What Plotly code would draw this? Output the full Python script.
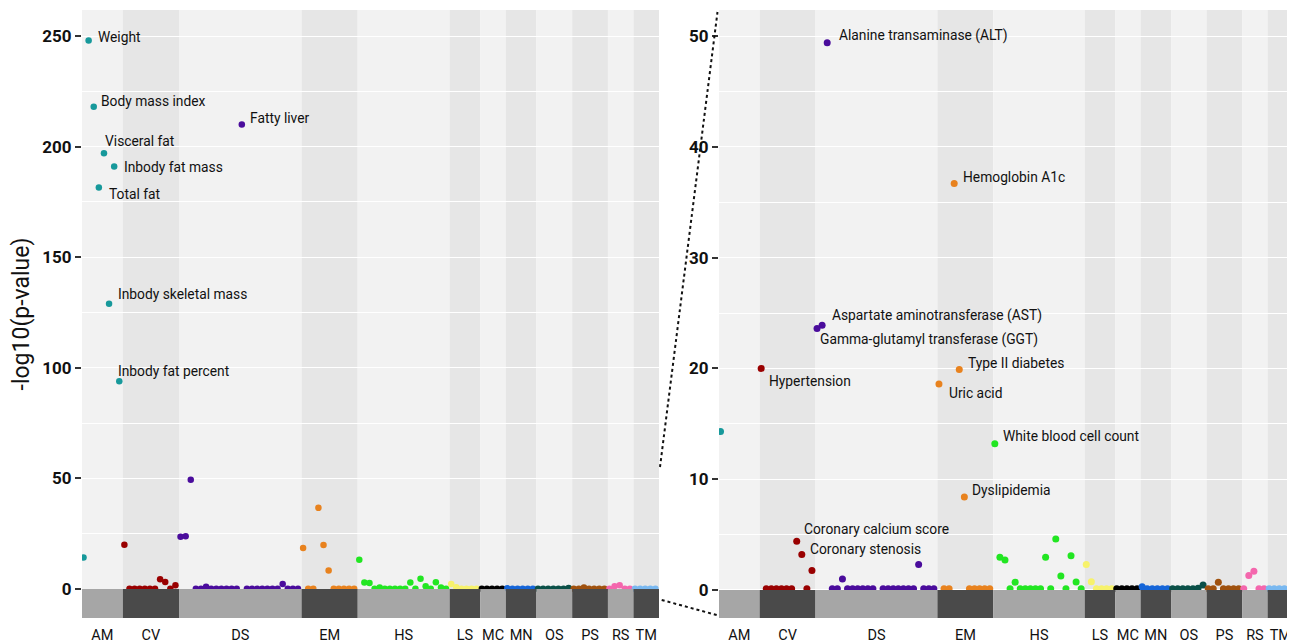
import plotly.graph_objects as go

# ---------------- data ----------------
categories = ["AM", "CV", "DS", "EM", "HS", "LS", "MC", "MN", "OS", "PS", "RS", "TM"]

am_vals = [14.3, 248.0, 218.0, 181.5, 197.0, 129.0, 191.0, 94.0]
cv_vals = [20.0, 0.1, 0.1, 0.1, 0.1, 0.1, 0.1, 4.4, 3.2, 0.1, 1.75]
ds_vals = [23.6, 23.9, 49.4, 0.1, 0.1, 1.0, 0.1, 0.1, 0.1, 0.1, 0.1, 0.1,
           210.0, 0.1, 0.1, 0.1, 0.1, 0.1, 0.1, 0.1, 2.3, 0.1, 0.1, 0.1]
em_vals = [18.6, 0.1, 0.1, 36.7, 19.9, 8.4, 0.1, 0.1, 0.1, 0.1, 0.1]
hs_vals = [13.2, 2.95, 2.7, 0.1, 0.7, 0.1, 0.1, 0.1, 0.1, 0.1, 2.95, 0.1,
           4.6, 1.26, 0.1, 3.1, 0.72, 0.1]
ls_vals = [2.3, 0.75, 0.1, 0.1, 0.1, 0.1]
mc_vals = [0.1, 0.1, 0.1, 0.1, 0.1]
mn_vals = [0.3, 0.1, 0.1, 0.1, 0.1, 0.1]
os_vals = [0.1, 0.1, 0.1, 0.1, 0.1, 0.15, 0.45]
ps_vals = [0.1, 0.1, 0.7, 0.1, 0.1, 0.1, 0.1]
rs_vals = [0.1, 1.3, 1.7, 0.1, 0.1]
tm_vals = [0.1, 0.1, 0.1, 0.1, 0.1]

series = [am_vals, cv_vals, ds_vals, em_vals, hs_vals, ls_vals,
          mc_vals, mn_vals, os_vals, ps_vals, rs_vals, tm_vals]

# labelled points: (text, category, position within category)
left_labels = [
    ("Weight", "AM", 1), ("Body mass index", "AM", 2), ("Total fat", "AM", 3),
    ("Visceral fat", "AM", 4), ("Inbody skeletal mass", "AM", 5),
    ("Inbody fat mass", "AM", 6), ("Inbody fat percent", "AM", 7),
    ("Fatty liver", "DS", 12),
]
right_labels = [
    ("Hypertension", "CV", 0), ("Coronary calcium score", "CV", 7),
    ("Coronary stenosis", "CV", 8), ("Gamma-glutamyl transferase (GGT)", "DS", 0),
    ("Aspartate aminotransferase (AST)", "DS", 1), ("Alanine transaminase (ALT)", "DS", 2),
    ("Uric acid", "EM", 0), ("Hemoglobin A1c", "EM", 3), ("Type II diabetes", "EM", 4),
    ("Dyslipidemia", "EM", 5), ("White blood cell count", "HS", 0),
]

# ---------------- style ----------------
colors = ["#17999b", "#990000", "#4a0c9c", "#e8821e", "#22e622", "#f7f26b",
          "#000000", "#1565d8", "#0b5048", "#a0520f", "#f467ad", "#79b8f0"]
bg_light, bg_dark = "#f2f2f2", "#e6e6e6"
bar_light, bar_dark = "#a6a6a6", "#4a4a4a"
label_shift = {
    "Weight": (7, 4), "Body mass index": (5, 6), "Total fat": (8, -6),
    "Visceral fat": (-1, 12), "Inbody skeletal mass": (7, 10),
    "Inbody fat mass": (8, 0), "Inbody fat percent": (-3, 10), "Fatty liver": (6, 7),
    "Hypertension": (6, -13), "Coronary calcium score": (5, 12),
    "Coronary stenosis": (6, 6), "Gamma-glutamyl transferase (GGT)": (1, -11),
    "Aspartate aminotransferase (AST)": (8, 10), "Alanine transaminase (ALT)": (10, 7),
    "Uric acid": (8, -9), "Hemoglobin A1c": (7, 6), "Type II diabetes": (7, 7),
    "Dyslipidemia": (6, 7), "White blood cell count": (6, 8),
}
FONT = "Roboto"
OX, OY = 8, 8            # page body margin
W, H = 1295 - OX, 643 - OY


def px(x):
    return (x - OX) / W


def py(y):
    return 1 - (y - OY) / H


# ---------------- positions ----------------
starts = []
s = 0
for v in series:
    starts.append(s)
    s += len(v)
N = s
xr = [-0.3, N - 1 + 0.7]
left_range = [-13.1, 261.8]
right_range = [-2.53, 52.35]

fig = go.Figure()
for xa, ya, msize in [("x", "y", 6.5), ("x2", "y2", 7)]:
    for ci, vals in enumerate(series):
        xs = list(range(starts[ci], starts[ci] + len(vals)))
        fig.add_trace(go.Scatter(
            x=xs, y=vals, mode="markers", xaxis=xa, yaxis=ya,
            marker=dict(color=colors[ci], size=msize, line=dict(width=0)),
            showlegend=False, hoverinfo="skip"))

shapes = []
for (xref, yref, yr) in [("x", "y", left_range), ("x2", "y2", right_range)]:
    for ci, vals in enumerate(series):
        x0 = starts[ci] - 0.3
        x1 = starts[ci] + len(vals) - 0.3
        shapes.append(dict(type="rect", xref=xref, yref=yref + " domain",
                           x0=x0, x1=x1, y0=0, y1=1, layer="below",
                           fillcolor=bg_light if ci % 2 == 0 else bg_dark,
                           line=dict(width=0)))
        shapes.append(dict(type="rect", xref=xref, yref=yref,
                           x0=x0, x1=x1, y0=yr[0], y1=0, layer="above",
                           fillcolor=bar_light if ci % 2 == 0 else bar_dark,
                           line=dict(width=0)))

# dotted connectors between the panels
for (ax0, ay0, ax1, ay1) in [(660, 467, 717.5, 12), (661.7, 600, 716.7, 615)]:
    shapes.append(dict(type="line", xref="paper", yref="paper",
                       x0=px(ax0), y0=py(ay0), x1=px(ax1), y1=py(ay1),
                       line=dict(color="#111111", width=2, dash="dot")))

annotations = []
for labels, xa, ya in [(left_labels, "x", "y"), (right_labels, "x2", "y2")]:
    for text, cat, pos in labels:
        ci = categories.index(cat)
        dx, dy = label_shift[text]
        annotations.append(dict(
            x=starts[ci] + pos, y=series[ci][pos], xref=xa, yref=ya,
            text=text, showarrow=False, xanchor="left", yanchor="middle",
            xshift=dx, yshift=dy, font=dict(family=FONT, size=13.8, color="#111111")))

centers = [starts[i] - 0.3 + len(v) / 2 for i, v in enumerate(series)]

xaxis_common = dict(range=xr, showgrid=False, zeroline=False, showline=False,
                    tickmode="array", tickvals=centers, ticktext=categories,
                    ticks="", ticklabelstandoff=6,
                    tickfont=dict(family=FONT, size=14.5, color="#111111"),
                    fixedrange=True, automargin=False)
yaxis_common = dict(showgrid=True, gridcolor="white", gridwidth=1.2, zeroline=False,
                    showline=False, ticks="outside", ticklen=6, tickwidth=1.5,
                    tickcolor="#333333",
                    tickfont=dict(family=FONT, size=17, color="#111111", weight="bold"),
                    automargin=False)

ydom = [py(618), py(10)]
fig.update_layout(
    width=W, height=H,
    margin=dict(l=0, r=0, t=0, b=0),
    paper_bgcolor="white", plot_bgcolor="rgba(0,0,0,0)",
    xaxis=dict(domain=[px(82), px(659)], **xaxis_common),
    xaxis2=dict(domain=[px(719), px(1293)], anchor="y2", **xaxis_common),
    yaxis=dict(domain=ydom, range=left_range, tickvals=[0, 50, 100, 150, 200, 250],
               minor=dict(dtick=25, tick0=0, showgrid=True, gridcolor="white", gridwidth=1),
               title=dict(text="-log10(p-value)", font=dict(family=FONT, size=23, color="#111111"),
                          standoff=8),
               **yaxis_common),
    yaxis2=dict(domain=ydom, range=right_range, anchor="x2",
                tickvals=[0, 10, 20, 30, 40, 50],
                minor=dict(dtick=5, tick0=0, showgrid=True, gridcolor="white", gridwidth=1),
                **yaxis_common),
    shapes=shapes, annotations=annotations,
    font=dict(family=FONT),
)

fig.write_html("out.html")
